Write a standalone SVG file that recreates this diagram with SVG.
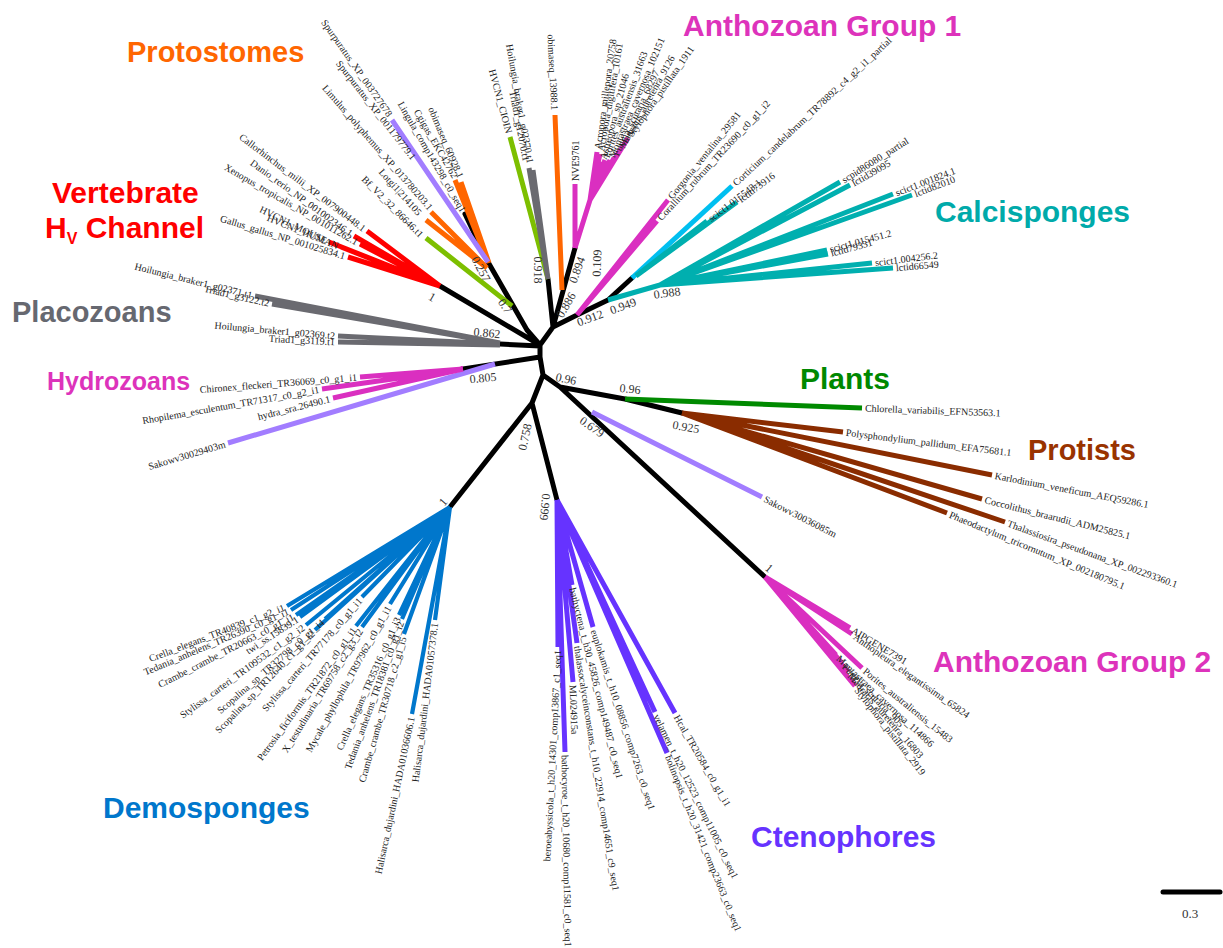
<svg xmlns="http://www.w3.org/2000/svg" width="1223" height="948" viewBox="0 0 1223 948">
<style>
.b{fill:none;stroke-width:5;stroke-linecap:butt}
.k{stroke:#000;stroke-linecap:round;stroke-linejoin:round}
.red{stroke:#ff0000}
.or{stroke:#ff6600}
.pu{stroke:#a27dff}
.yg{stroke:#7dbf00}
.gy{stroke:#6a6a70}
.pk{stroke:#da2fc0}
.cy{stroke:#00bff0}
.tl{stroke:#00afaf}
.gr{stroke:#008a00}
.br{stroke:#8a2c00}
.bl{stroke:#0077cc;stroke-width:4.2}
.vi{stroke:#6633ff}
text{font-family:"Liberation Serif","Times New Roman",serif}
.lf{font-size:10px;fill:#222}
.e{text-anchor:end}
.s{font-size:12px;fill:#333;text-anchor:middle}
.t{font-family:"Liberation Sans",Arial,sans-serif;font-weight:bold;font-size:30px}
</style>
<rect width="1223" height="948" fill="#fff"/>
<g id="connectors">
<path class="b k" d="M440 286L540 345M488 262L527 330L540 345M500 344L540 346M540 345L553 327L548 279M553 327L575 248M553 327L577 315L608 300L632 278M540 345L540 357L543 375L560 387L625 399L682 413M540 357L463 369M543 375L532 403L450 507M532 403L557 500M560 387L765 577M488 262L465 214"/>
<path class="b red" d="M440 286L367 231M440 286L354 236M440 286L360 244M440 286L329 242M440 286L341 247M440 286L348 257"/>
<path class="b or" d="M488 262L455 180M489 263L461 182M487 268L431 212M487 268L426 220M562 290L555 115"/>
<path class="b pu" d="M488 262L392 120M495 364L228 443M592 412L762 497"/>
<path class="b yg" d="M512 306L426 238M548 279L510 137"/>
<path class="b gy" d="M548 279L529 168M548 279L533 170M500 343L255 296M500 343L272 304M500 344L338 336M500 345L338 342"/>
<path class="b pk" d="M463 369L360 377M463 369L322 389M463 369L333 398M575 248L575 184M575 248L590 200M590 200L597 152M590 200L600 154M590 200L602 162M590 200L605 160M590 200L610 160M590 200L614 158M590 200L620 150M590 200L628 138M577 315L668 200M577 315L657 221M765 577L850 628M765 577L852 634M765 577L862 668M765 577L836 655M765 577L842 663M765 577L848 672M765 577L855 686"/>
<path class="b cy" d="M632 278L732 186"/>
<path class="b tl" d="M608 300L660 285M636 276L707 221M636 276L737 202M660 285L840 182M660 285L850 185M660 285L893 194M660 285L912 195M660 285L827 250M660 285L828 254M660 285L872 263M660 285L893 268"/>
<path class="b gr" d="M625 399L862 408"/>
<path class="b br" d="M682 413L843 432M682 413L992 475M682 413L982 499M682 413L1005 522M682 413L947 513"/>
<path class="b bl" d="M450 507L287 606M450 507L291 610M450 507L296 615M450 507L300 617M450 507L306 625M450 507L325 619M450 507L315 630M450 507L362 597M450 507L356 626M450 507L362 627M450 507L390 604M450 507L399 615M450 507L402 619M450 507L404 634M450 507L412 714M450 507L435 620"/>
<path class="b vi" d="M557 500L558 647M557 500L565 752M557 500L573 682M557 500L572 585M557 500L577 643M557 500L593 627M557 500L655 712M557 500L667 753M557 500L675 713"/>
<path class="b k" d="M1163 892L1220 892" stroke-linecap="butt"/>
</g>
<g id="vertebrates">
<text class="lf e" transform="translate(367,231) rotate(37)" x="-3" dy="3.5">Callorhinchus_milii_XP_007900448.1</text>
<text class="lf e" transform="translate(354,236) rotate(36)" x="-3" dy="3.5">Danio_rerio_NP_001002346.1</text>
<text class="lf e" transform="translate(360,244) rotate(30)" x="-3" dy="3.5">Xenopus_tropicalis_NP_001011262.1</text>
<text class="lf e" transform="translate(329,242) rotate(26)" x="-3" dy="3.5">HVCN1_MOUSE</text>
<text class="lf e" transform="translate(341,247) rotate(22)" x="-3" dy="3.5">HVCN1_HUMAN</text>
<text class="lf e" transform="translate(348,257) rotate(17)" x="-3" dy="3.5">Gallus_gallus_NP_001025834.1</text>
</g>
<g id="protostomes">
<text class="lf e" transform="translate(392,118) rotate(55)" x="-3" dy="3.5">Spurpuratus_XP_003727678</text>
<text class="lf e" transform="translate(416,161) rotate(52)" x="-3" dy="3.5">Spurpuratus_XP_001179779.1</text>
<text class="lf e" transform="translate(433,211) rotate(49)" x="-3" dy="3.5">Limulus_polyphemus_XP_013780203.1</text>
<text class="lf e" transform="translate(465,214) rotate(60)" x="-3" dy="3.5">Lingula_comp143298_c0_seq1</text>
<text class="lf e" transform="translate(457,180) rotate(60)" x="-3" dy="3.5">Cgigas_EKC42762</text>
<text class="lf e" transform="translate(462,180) rotate(67)" x="-3" dy="3.5">obimaseq_60928.1</text>
<text class="lf e" transform="translate(422,216) rotate(48)" x="-3" dy="3.5">Lotgi1|214105</text>
<text class="lf e" transform="translate(424,238) rotate(45)" x="-3" dy="3.5">Bf_V2_32_86646.t1</text>
<text class="lf e" transform="translate(510,136) rotate(75)" x="-3" dy="3.5">HVCN1_CIOIN</text>
<text class="lf e" transform="translate(531,166) rotate(80)" x="-3" dy="3.5">Hoilungia_braker1_g02370.t1</text>
<text class="lf e" transform="translate(527,164) rotate(79)" x="-3" dy="3.5">Triad1_g12070.t1</text>
<text class="lf e" transform="translate(555,113) rotate(87)" x="-3" dy="3.5">obimaseq_13988.1</text>
</g>
<g id="placozoans">
<text class="lf e" transform="translate(255,296) rotate(14)" x="-3" dy="3.5">Hoilungia_braker1_g02371.t1</text>
<text class="lf e" transform="translate(272,304) rotate(13)" x="-3" dy="3.5">Triad1_g3122.t2</text>
<text class="lf e" transform="translate(338,336) rotate(5)" x="-3" dy="3.5">Hoilungia_braker1_g02369.t2</text>
<text class="lf e" transform="translate(338,342) rotate(3)" x="-3" dy="3.5">Triad1_g3119.t1</text>
</g>
<g id="hydrozoans">
<text class="lf e" transform="translate(360,377) rotate(-4.5)" x="-3" dy="3.5">Chironex_fleckeri_TR36069_c0_g1_i1</text>
<text class="lf e" transform="translate(322,389) rotate(-10)" x="-3" dy="3.5">Rhopilema_esculentum_TR71317_c0_g2_i1</text>
<text class="lf e" transform="translate(333,398) rotate(-14)" x="-3" dy="3.5">hydra_sra.26490.1</text>
<text class="lf e" transform="translate(228,443) rotate(-16.6)" x="-3" dy="3.5">Sakowv30029403m</text>
</g>
<g id="anthozoa1">
<text class="lf" transform="translate(575,184) rotate(-90)" x="3" dy="3.5">NVE9761</text>
<text class="lf" transform="translate(597,152) rotate(-82)" x="3" dy="3.5">Acropora_millepora_20758</text>
<text class="lf" transform="translate(600,154) rotate(-80)" x="3" dy="3.5">Acropora_digitifera_10161</text>
<text class="lf" transform="translate(602,162) rotate(-75)" x="3" dy="3.5">Astreopora_sp_21046</text>
<text class="lf" transform="translate(605,160) rotate(-70)" x="3" dy="3.5">Porites_australiensis_31663</text>
<text class="lf" transform="translate(610,160) rotate(-67)" x="3" dy="3.5">Montastraea_cavernosa_102151</text>
<text class="lf" transform="translate(614,158) rotate(-64)" x="3" dy="3.5">Fungia_scutaria_68297</text>
<text class="lf" transform="translate(620,150) rotate(-61)" x="3" dy="3.5">Madracis_auretenra_9126</text>
<text class="lf" transform="translate(628,138) rotate(-55)" x="3" dy="3.5">Stylophora_pistillata_1911</text>
<text class="lf" transform="translate(668,200) rotate(-51)" x="3" dy="3.5">Gorgonia_ventalina_29581</text>
<text class="lf" transform="translate(657,221) rotate(-47)" x="3" dy="3.5">Corallium_rubrum_TR23690_c0_g1_i2</text>
</g>
<g id="calcisponges">
<text class="lf" transform="translate(732,186) rotate(-43)" x="3" dy="3.5">Corticium_candelabrum_TR78892_c4_g2_i1_partial</text>
<text class="lf" transform="translate(707,221) rotate(-37)" x="3" dy="3.5">scict1.015543.1</text>
<text class="lf" transform="translate(737,202) rotate(-37)" x="3" dy="3.5">lctid73916</text>
<text class="lf" transform="translate(840,182) rotate(-32)" x="3" dy="3.5">scpid86080_partial</text>
<text class="lf" transform="translate(850,185) rotate(-30)" x="3" dy="3.5">lctid39095</text>
<text class="lf" transform="translate(893,194) rotate(-21)" x="3" dy="3.5">scict1.001824.1</text>
<text class="lf" transform="translate(912,195) rotate(-21)" x="3" dy="3.5">lctid82010</text>
<text class="lf" transform="translate(827,250) rotate(-15)" x="3" dy="3.5">scict1.015451.2</text>
<text class="lf" transform="translate(828,254) rotate(-15)" x="3" dy="3.5">lctid79331</text>
<text class="lf" transform="translate(872,263) rotate(-7)" x="3" dy="3.5">scict1.004256.2</text>
<text class="lf" transform="translate(893,268) rotate(-5)" x="3" dy="3.5">lctid66549</text>
</g>
<g id="plants-protists">
<text class="lf" transform="translate(862,408) rotate(2)" x="3" dy="3.5">Chlorella_variabilis_EFN53563.1</text>
<text class="lf" transform="translate(843,432) rotate(7)" x="3" dy="3.5">Polysphondylium_pallidum_EFA75681.1</text>
<text class="lf" transform="translate(992,475) rotate(10.7)" x="3" dy="3.5">Karlodinium_veneficum_AEQ59286.1</text>
<text class="lf" transform="translate(982,499) rotate(14)" x="3" dy="3.5">Coccolithus_braarudii_ADM25825.1</text>
<text class="lf" transform="translate(1005,522) rotate(20)" x="3" dy="3.5">Thalassiosira_pseudonana_XP_002293360.1</text>
<text class="lf" transform="translate(947,513) rotate(22.5)" x="3" dy="3.5">Phaeodactylum_tricornutum_XP_002180795.1</text>
<text class="lf" transform="translate(762,497) rotate(27)" x="3" dy="3.5">Sakowv30036085m</text>
</g>
<g id="anthozoa2">
<text class="lf" transform="translate(850,628) rotate(31)" x="3" dy="3.5">AIPGENE7391</text>
<text class="lf" transform="translate(852,634) rotate(35)" x="3" dy="3.5">Anthopleura_elegantissima_65824</text>
<text class="lf" transform="translate(862,668) rotate(39)" x="3" dy="3.5">Porites_australiensis_15483</text>
<text class="lf" transform="translate(836,655) rotate(43)" x="3" dy="3.5">Montastraea_cavernosa_114866</text>
<text class="lf" transform="translate(842,663) rotate(46)" x="3" dy="3.5">Fungia_scutaria_905</text>
<text class="lf" transform="translate(848,672) rotate(49)" x="3" dy="3.5">Madracis_auretenra_16803</text>
<text class="lf" transform="translate(855,686) rotate(52)" x="3" dy="3.5">Stylophora_pistillata_2919</text>
</g>
<g id="ctenophores">
<text class="lf e" transform="translate(558,647) rotate(-87)" x="-3" dy="3.5">beroeabyssicola_t_h20_14301_comp13867_c1_seq1</text>
<text class="lf" transform="translate(565,752) rotate(89)" x="3" dy="3.5">bathocyroe_t_h20_10680_comp11581_c0_seq1</text>
<text class="lf" transform="translate(573,682) rotate(88)" x="3" dy="3.5">ML024915a</text>
<text class="lf" transform="translate(577,643) rotate(81)" x="3" dy="3.5">thalassocalyceinconstans_t_h10_22914_comp14651_c9_seq1</text>
<text class="lf" transform="translate(572,585) rotate(76)" x="3" dy="3.5">bathyctena_t_h30_45826_comp149487_c0_seq1</text>
<text class="lf" transform="translate(593,627) rotate(72)" x="3" dy="3.5">euplokamis_t_h10_08856_comp7263_c0_seq1</text>
<text class="lf" transform="translate(655,712) rotate(64)" x="3" dy="3.5">velamen_t_h20_12523_comp11005_c0_seq1</text>
<text class="lf" transform="translate(667,753) rotate(68)" x="3" dy="3.5">bolinopsis_t_h20_31421_comp23663_c0_seq1</text>
<text class="lf" transform="translate(675,713) rotate(60)" x="3" dy="3.5">Hcal_TR20584_c0_g1_i1</text>
</g>
<g id="demosponges">
<text class="lf e" transform="translate(287,606) rotate(-21)" x="-3" dy="3.5">Crella_elegans_TR40839_c1_g2_i1</text>
<text class="lf e" transform="translate(291,610) rotate(-23)" x="-3" dy="3.5">Tedania_anhelens_TR26390_c0_g1_i1</text>
<text class="lf e" transform="translate(296,615) rotate(-27)" x="-3" dy="3.5">Crambe_crambe_TR20663_c0_g1_i1</text>
<text class="lf e" transform="translate(300,617) rotate(-33)" x="-3" dy="3.5">twi_ss.15839.1</text>
<text class="lf e" transform="translate(306,625) rotate(-36)" x="-3" dy="3.5">Stylissa_carteri_TR109532_c1_g2_i2</text>
<text class="lf e" transform="translate(325,619) rotate(-41)" x="-3" dy="3.5">Scopalina_sp_TR32798_c0_g1_i4</text>
<text class="lf e" transform="translate(315,630) rotate(-46)" x="-3" dy="3.5">Scopalina_sp_TR12640_c1_g1_i2</text>
<text class="lf e" transform="translate(362,597) rotate(-49)" x="-3" dy="3.5">Stylissa_carteri_TR77178_c0_g1_i1</text>
<text class="lf e" transform="translate(356,626) rotate(-54)" x="-3" dy="3.5">Petrosia_ficiformis_TR21872_c0_g1_i1</text>
<text class="lf e" transform="translate(362,627) rotate(-58)" x="-3" dy="3.5">X_testudinaria_TR69758_c2_g3_i2</text>
<text class="lf e" transform="translate(390,604) rotate(-61)" x="-3" dy="3.5">Mycale_phyllophila_TR97962_c0_g1_i1</text>
<text class="lf e" transform="translate(399,615) rotate(-66)" x="-3" dy="3.5">Crella_elegans_TR35316_c0_g1_i3</text>
<text class="lf e" transform="translate(402,619) rotate(-70)" x="-3" dy="3.5">Tedania_anhelens_TR18381_c0_g1_i2</text>
<text class="lf e" transform="translate(404,634) rotate(-74)" x="-3" dy="3.5">Crambe_crambe_TR30718_c2_g1_i5</text>
<text class="lf e" transform="translate(412,714) rotate(-78)" x="-3" dy="3.5">Halisarca_dujardini_HADA01036606.1</text>
<text class="lf e" transform="translate(435,620) rotate(-83)" x="-3" dy="3.5">Halisarca_dujardini_HADA01057378.1</text>
</g>
<g id="support">
<text class="s" transform="translate(432,297) rotate(30)" dy="4">1</text>
<text class="s" transform="translate(487,333) rotate(5)" dy="4">0.862</text>
<text class="s" transform="translate(483,378) rotate(-5)" dy="4">0.805</text>
<text class="s" transform="translate(481,269) rotate(62)" dy="4">0.257</text>
<text class="s" transform="translate(505,306) rotate(55)" dy="4">0.7</text>
<text class="s" transform="translate(538,270) rotate(90)" dy="4">0.918</text>
<text class="s" transform="translate(566,305) rotate(-60)" dy="4">0.886</text>
<text class="s" transform="translate(577,270) rotate(-70)" dy="4">0.894</text>
<text class="s" transform="translate(597,263) rotate(-88)" dy="4">0.109</text>
<text class="s" transform="translate(590,318) rotate(-20)" dy="4">0.912</text>
<text class="s" transform="translate(623,306) rotate(-20)" dy="4">0.949</text>
<text class="s" transform="translate(667,293) rotate(-8)" dy="4">0.988</text>
<text class="s" transform="translate(566,379) rotate(12)" dy="4">0.96</text>
<text class="s" transform="translate(630,389) rotate(5)" dy="4">0.96</text>
<text class="s" transform="translate(686,427) rotate(10)" dy="4">0.925</text>
<text class="s" transform="translate(592,427) rotate(35)" dy="4">0.679</text>
<text class="s" transform="translate(525,437) rotate(-78)" dy="4">0.758</text>
<text class="s" transform="translate(545,507) rotate(95)" dy="4">0.999</text>
<text class="s" transform="translate(443,502) rotate(-50)" dy="4">1</text>
<text class="s" transform="translate(769,568) rotate(40)" dy="4">1</text>
<text class="s" x="1190" y="918" style="font-size:13px">0.3</text>
</g>
<g id="titles">
<text class="t" x="127" y="62" fill="#ff6600" style="font-size:29px">Protostomes</text>
<text class="t" x="52" y="203" fill="#ff0000">Vertebrate</text>
<text class="t" x="45" y="238" fill="#ff0000">H<tspan style="font-size:16px" dy="6">V</tspan><tspan dy="-6"> Channel</tspan></text>
<text class="t" x="12" y="322" fill="#666870" style="font-size:29px">Placozoans</text>
<text class="t" x="47" y="390" fill="#dd33bb" style="font-size:25px">Hydrozoans</text>
<text class="t" x="683" y="36" fill="#dd33bb">Anthozoan Group 1</text>
<text class="t" x="935" y="222" fill="#00aaaa">Calcisponges</text>
<text class="t" x="800" y="389" fill="#008800">Plants</text>
<text class="t" x="1028" y="460" fill="#993300" style="font-size:29px">Protists</text>
<text class="t" x="933" y="672" fill="#dd33bb">Anthozoan Group 2</text>
<text class="t" x="751" y="847" fill="#6633ff">Ctenophores</text>
<text class="t" x="103" y="818" fill="#0077cc">Demosponges</text>
</g>
</svg>
